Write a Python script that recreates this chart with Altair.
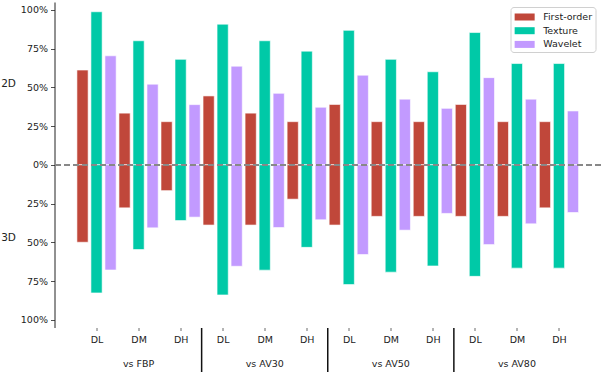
import altair as alt
import pandas as pd

groups = ["vs FBP", "vs AV30", "vs AV50", "vs AV80"]
levels = ["DL", "DM", "DH"]
series = ["First-order", "Texture", "Wavelet"]
colors = ["#C0473A", "#00C9A7", "#C29AFF"]

# Share of features (%) per comparison, ordered vs FBP / AV30 / AV50 / AV80 x DL / DM / DH
first_order_2d = [61.1, 33.3, 27.8, 44.4, 33.3, 27.8, 38.9, 27.8, 27.8, 38.9, 27.8, 27.8]
first_order_3d = [50.0, 27.8, 16.7, 38.9, 38.9, 22.2, 38.9, 33.3, 33.3, 33.3, 33.3, 27.8]
texture_2d = [98.7, 80.0, 68.0, 90.7, 80.0, 73.3, 86.7, 68.0, 60.0, 85.3, 65.3, 65.3]
texture_3d = [82.7, 54.7, 36.0, 84.0, 68.0, 53.3, 77.3, 69.3, 65.3, 72.0, 66.7, 66.7]
wavelet_2d = [70.3, 52.0, 38.8, 63.6, 46.1, 37.1, 57.8, 42.3, 36.4, 56.2, 42.3, 34.7]
wavelet_3d = [67.9, 40.7, 33.8, 65.5, 40.5, 35.5, 57.9, 42.2, 31.4, 51.5, 38.1, 30.8]

upper = {"First-order": first_order_2d, "Texture": texture_2d, "Wavelet": wavelet_2d}
lower = {"First-order": first_order_3d, "Texture": texture_3d, "Wavelet": wavelet_3d}

rows = []
for i in range(len(groups) * len(levels)):
    for s, name in enumerate(series):
        pos = 3 * i + s
        for dim, vals, sign in (("2D", upper, 1), ("3D", lower, -1)):
            rows.append({
                "group": groups[i // 3],
                "level": levels[i % 3],
                "series": name,
                "dim": dim,
                "pos": pos,
                "x0": pos - 0.4,
                "x1": pos + 0.4,
                "value": sign * vals[name][i],
            })
df = pd.DataFrame(rows)

group_df = pd.DataFrame({"group": groups, "center": [9 * g + 4 for g in range(len(groups))]})
sep_df = pd.DataFrame({"b": [9 * g - 0.5 for g in range(1, len(groups))]})
dim_df = pd.DataFrame({"label": ["2D", "3D"], "py": [81.5, 235.5]})

FONT = "DejaVu Sans"
xscale = alt.Scale(domain=[-2, 37], nice=False, zero=False)
yscale = alt.Scale(domain=[-105, 105], nice=False)

bars = alt.Chart(df).mark_bar(stroke="white", strokeWidth=0.6).encode(
    x=alt.X("x0:Q", scale=xscale,
            axis=alt.Axis(values=[3 * i + 1 for i in range(12)],
                          labelExpr="['DL','DM','DH'][floor(datum.value/3)%3]",
                          domain=False, ticks=True, tickSize=3, tickColor="#444",
                          tickWidth=0.8, grid=False, labelPadding=4, labelFontSize=9.5,
                          labelColor="#222", labelFont=FONT, title=None)),
    x2="x1:Q",
    y=alt.Y("value:Q", scale=yscale,
            axis=alt.Axis(values=[-100, -75, -50, -25, 0, 25, 50, 75, 100],
                          labelExpr="abs(datum.value) + '%'",
                          domain=True, domainColor="#222", domainWidth=1,
                          tickSize=4, tickColor="#222", tickWidth=0.8, grid=False,
                          labelPadding=3, labelFontSize=9.5, labelColor="#222",
                          labelFont=FONT, title=None)),
    y2=alt.datum(0),
    color=alt.Color("series:N", scale=alt.Scale(domain=series, range=colors),
                    legend=alt.Legend(title=None, orient="none", legendX=456, legendY=5)),
)

zero = alt.Chart(df).mark_rule(color="#888888", strokeWidth=1.5, strokeDash=[6, 3]).encode(
    y=alt.datum(0)
)

seps = alt.Chart(sep_df).mark_rule(color="#111", strokeWidth=1.5).encode(
    x=alt.X("b:Q", scale=xscale), y=alt.value(326), y2=alt.value(370)
)

glabels = alt.Chart(group_df).mark_text(font=FONT, fontSize=9.5, color="#222", baseline="middle").encode(
    x=alt.X("center:Q", scale=xscale), y=alt.value(361.5), text="group:N"
)

dlabels = alt.Chart(dim_df).mark_text(font=FONT, fontSize=10.5, color="#222", baseline="middle").encode(
    x=alt.value(-46), y=alt.Y("py:Q", scale=None), text="label:N"
)

# Wide flat swatches: a 20x7 rectangle drawn on a 14.3px legend row
chart = alt.layer(bars, zero, seps, glabels, dlabels).properties(
    width=546.5, height=325.5,
    autosize=alt.AutoSizeParams(type="none"),
    padding={"left": 54.5, "top": 2, "right": 1, "bottom": 45.5},
).configure_view(stroke=None).configure_legend(
    symbolType="M-1.4,-0.49L1.4,-0.49L1.4,0.49L-1.4,0.49Z",
    symbolSize=204.5, symbolStrokeWidth=0, symbolOffset=4.15,
    labelFont=FONT, labelFontSize=9.5, labelColor="#222", labelOffset=11,
    strokeColor="#d0d0d0", fillColor="white", cornerRadius=3,
    padding=2.5, rowPadding=1.7,
)

chart.save("out.html", embed_options={"renderer": "svg", "actions": False})
